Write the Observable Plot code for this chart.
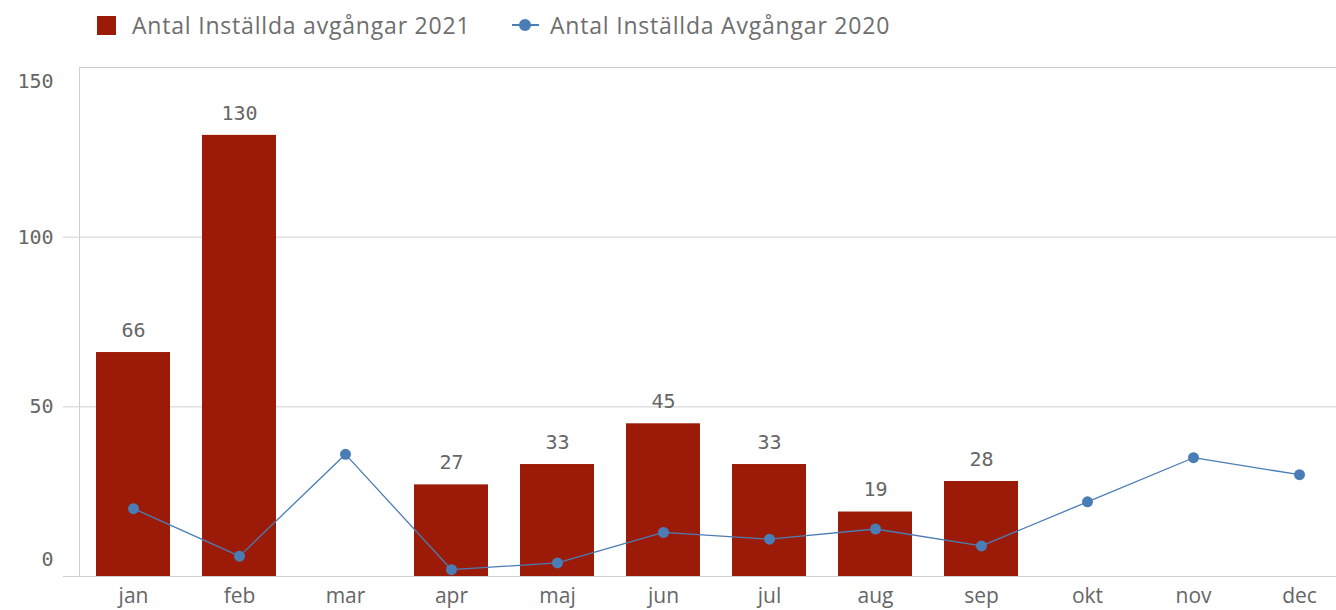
<!DOCTYPE html>
<html><head><meta charset="utf-8">
<script src="https://cdn.jsdelivr.net/npm/d3@7"></script>
<script src="https://cdn.jsdelivr.net/npm/@observablehq/plot@0.6"></script>
<style>
html,body{margin:0;padding:0;background:#fff;overflow:hidden;width:1336px;height:610px}
#legend{position:relative;height:52px;font-family:"Open Sans",Roboto,sans-serif;font-size:23px;letter-spacing:0.8px;color:#6e6e6e}
#legend .item{position:absolute;top:9px;line-height:32px;white-space:nowrap}
#legend .sw{position:absolute;display:block}
#chart svg{display:block;overflow:hidden}
</style></head><body>
<div id="legend"></div>
<div id="chart"></div>
<script>
const months = ["jan","feb","mar","apr","maj","jun","jul","aug","sep","okt","nov","dec"];
const values2021 = [66,130,null,27,33,45,33,19,28,null,null,null];
const values2020 = [20,6,36,2,4,13,11,14,9,22,35,30];
const yTicks = [0,50,100,150];
const seriesLabels = ["Antal Inställda avgångar 2021", "Antal Inställda Avgångar 2020"];
const colors = {bar:"#9c1b08", line:"#4a7db5"};

// legend
const lg = document.getElementById("legend");
lg.innerHTML = `
 <span class="sw" style="left:97px;top:16px;width:19px;height:19px;background:${colors.bar}"></span>
 <span class="item" style="left:132px">${seriesLabels[0]}</span>
 <span class="sw" style="left:512px;top:24px;width:27px;height:2px;background:${colors.line}"></span>
 <span class="sw" style="left:519px;top:19px;width:12px;height:12px;border-radius:6px;background:${colors.line}"></span>
 <span class="item" style="left:550px">${seriesLabels[1]}</span>`;

const data = months.map((m,i)=>({month:m, v2021:values2021[i], v2020:values2020[i]}));
const bars = data.filter(d=>d.v2021!=null);
const mono = "DejaVu Sans Mono, monospace";
const gray = "#666";
const gridColor = "#cfcfcf";

const chart = Plot.plot({
  width:1336, height:558,
  marginLeft:79, marginRight:0, marginTop:15, marginBottom:34,
  x:{domain:months, range:[80,1352], paddingInner:0.3, paddingOuter:0.15},
  y:{domain:[0,150]},
  style:{fontFamily:"'Open Sans', Roboto, sans-serif", fontSize:"21px", color:gray, background:"#fff"},
  marks:[
    Plot.gridY(yTicks, {stroke:gridColor, strokeOpacity:1}),
    Plot.axisY(yTicks.filter(t=>t<150), {tickSize:16, stroke:gridColor, strokeOpacity:1, tickFormat:()=>""}),
    Plot.frame({anchor:"left", stroke:gridColor}),
    Plot.axisY(yTicks.filter(t=>t>0 && t<150), {tickSize:0, tickPadding:26, fontFamily:mono, fontSize:20, fill:gray}),
    Plot.axisY([150], {tickSize:0, tickPadding:26, dy:14, fontFamily:mono, fontSize:20, fill:gray}),
    Plot.axisY([0], {tickSize:0, tickPadding:26, dy:-17, fontFamily:mono, fontSize:20, fill:gray}),
    Plot.barY(bars, {x:"month", y:"v2021", fill:colors.bar}),
    Plot.text(bars, {x:"month", y:"v2021", text:d=>String(d.v2021), dy:-22, fontFamily:mono, fontSize:20, fill:gray}),
    Plot.line(data, {x:"month", y:"v2020", stroke:colors.line, strokeWidth:1.3}),
    Plot.dot(data, {x:"month", y:"v2020", r:5.5, fill:colors.line}),
    Plot.axisX({tickSize:0, tickPadding:12, fontSize:21, fill:gray, label:null})
  ]
});
document.getElementById("chart").appendChild(chart);
</script>
</body></html>
